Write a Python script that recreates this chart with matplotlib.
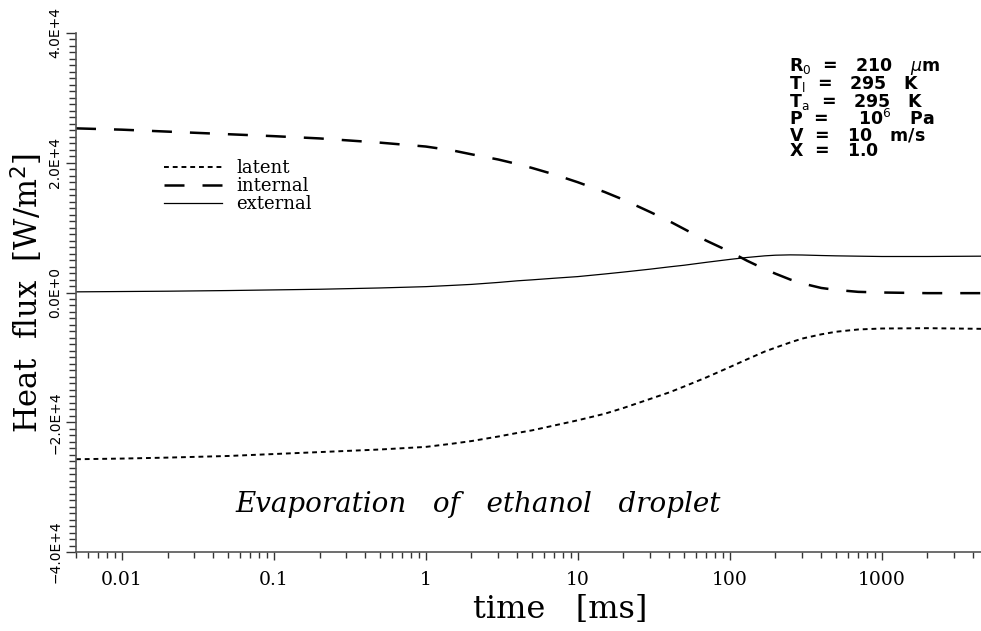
import matplotlib
matplotlib.use("Agg")
import matplotlib.pyplot as plt
from matplotlib.ticker import FixedLocator, MultipleLocator, FuncFormatter, LogLocator, NullFormatter

# ---------------- data (heat flux in W/m^2, time in ms) ----------------
time_ms = [0.005, 0.01, 0.02, 0.05, 0.1, 0.2, 0.5, 1, 1.5, 2, 3, 4, 5, 7,
           10, 15, 20, 30, 40, 50, 70, 100, 130, 170, 200, 250, 300, 400,
           500, 700, 1000, 2000, 4500]
latent = [-25700, -25600, -25450, -25200, -24900, -24600, -24200, -23800,
          -23300, -22900, -22200, -21650, -21250, -20500, -19700, -18700,
          -17800, -16400, -15400, -14500, -13100, -11500, -10300, -9100,
          -8500, -7700, -7100, -6450, -6050, -5700, -5550, -5500, -5600]
internal = [25300, 25100, 24800, 24400, 24100, 23750, 23100, 22500, 21900,
            21300, 20500, 19800, 19200, 18200, 17000, 15500, 14300, 12400,
            11000, 9800, 8000, 6300, 4900, 3600, 2900, 2000, 1400, 700, 400,
            100, 0, -100, -100]
external = [100, 150, 200, 300, 400, 500, 700, 900, 1100, 1250, 1550, 1800,
            1950, 2200, 2450, 2850, 3150, 3600, 3950, 4200, 4650, 5100, 5400,
            5650, 5750, 5800, 5780, 5700, 5650, 5600, 5550, 5550, 5600]
series_labels = ["latent", "internal", "external"]
ytick_values = [-40000, -20000, 0, 20000, 40000]
xtick_values = [0.01, 0.1, 1, 10, 100, 1000]
xtick_labels = ["0.01", "0.1", "1", "10", "100", "1000"]
param_lines = [r"R$_0$  =   210   $\mu$m",
               r"T$_\mathrm{l}$  =   295   K",
               r"T$_\mathrm{a}$  =   295   K",
               r"P  =     10$^6$   Pa",
               r"V  =   10   m/s$\,$",
               r"X  =   1.0$\,$"]
annotation = "Evaporation   of   ethanol   droplet"

# ---------------- figure ----------------
W, H = 981, 631
fig = plt.figure(figsize=(W / 100, H / 100), dpi=100)
ax = fig.add_axes([76 / W, (H - 552) / H, (981 - 76) / W, (552 - 33) / H])

ax.plot(time_ms, latent, color="black", lw=1.4, ls=(0, (2.5, 2.0)), label=series_labels[0])
ax.plot(time_ms, internal, color="black", lw=1.8, ls=(0, (8, 7.2)), label=series_labels[1])
ax.plot(time_ms, external, color="black", lw=0.9, ls="-", label=series_labels[2])

ax.set_xscale("log")
ax.set_xlim(0.005, 4500)
ax.set_ylim(-40000, 40000)

for s in ["top", "right"]:
    ax.spines[s].set_visible(False)
for s in ["left", "bottom"]:
    ax.spines[s].set_color("#555555")
    ax.spines[s].set_linewidth(1.2)

ax.xaxis.set_major_locator(FixedLocator(xtick_values))
ax.xaxis.set_minor_locator(LogLocator(base=10, subs=range(2, 10), numticks=20))
ax.xaxis.set_minor_formatter(NullFormatter())
ax.set_xticklabels(xtick_labels, family="DejaVu Serif", fontsize=13.5)
ax.tick_params(axis="x", which="major", direction="out", length=6, width=1, pad=8, color="#333333")
ax.tick_params(axis="x", which="minor", direction="out", length=4.5, width=1, color="#333333")

def yfmt(v, pos):
    if v == 0:
        return "0.0E+0"
    sign = "\u2212" if v < 0 else ""
    return f"{sign}{abs(v) / 1e4:.1f}E+4"

ax.yaxis.set_major_locator(FixedLocator(ytick_values))
ax.yaxis.set_minor_locator(MultipleLocator(1000))
ax.yaxis.set_major_formatter(FuncFormatter(yfmt))
ax.tick_params(axis="y", which="major", direction="out", length=7, width=1, pad=3, color="#333333")
ax.tick_params(axis="y", which="minor", direction="out", length=5, width=1, color="#333333")
for lab in ax.get_yticklabels():
    lab.set_rotation(90)
    lab.set_va("center")
    lab.set_family("DejaVu Sans")
    lab.set_fontsize(10)

ax.set_xlabel("time   [ms]", family="DejaVu Serif", fontsize=23, va="top")
ax.xaxis.set_label_coords((560 - 76) / 905, (552 - 594) / 519)
ax.set_ylabel("Heat  flux  [W/m$^2$]", family="DejaVu Serif", fontsize=22, labelpad=2)

leg = ax.legend(loc="upper left", bbox_to_anchor=(0.097, 0.757), frameon=False,
                prop={"family": "DejaVu Serif", "size": 13},
                handlelength=3.2, handletextpad=0.8, labelspacing=0.0,
                borderpad=0, borderaxespad=0)

# parameter block: one multi-line text
ax.text(0.788, (552 - 56) / 519, "\n".join(param_lines), transform=ax.transAxes,
        ha="left", va="top", family="DejaVu Sans", fontweight="bold",
        fontsize=12.5, linespacing=0.82)

ax.text(0.444, (552 - 505) / 519, annotation, transform=ax.transAxes,
        ha="center", va="center", family="DejaVu Serif", style="italic", fontsize=20)

fig.savefig("out.png", dpi=100)
